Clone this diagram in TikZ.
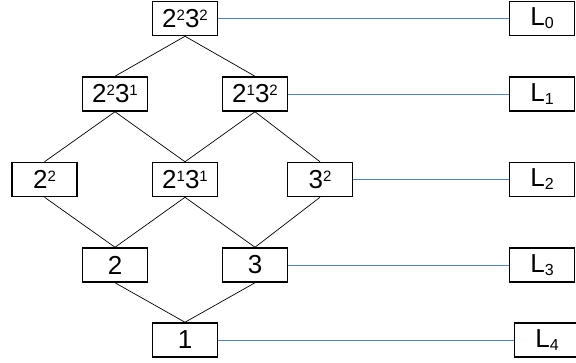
\documentclass[tikz,border=0pt]{standalone}
\usepackage{fontspec}
\setmainfont{Liberation Sans}
\definecolor{linkblue}{HTML}{4F81BD}
% exponent and level index
\newcommand\pw[1]{\raisebox{7pt}{\fontsize{15}{15}\selectfont #1}}
\newcommand\lvl[1]{L\raisebox{-3pt}{\fontsize{16}{16}\selectfont #1}}
\begin{document}
\begin{tikzpicture}[x=1pt,y=-1pt,
  divbox/.style={draw=black,line width=1.5pt,rectangle,minimum width=65pt,minimum height=34pt,
    inner sep=0pt,font=\fontsize{26}{26}\selectfont},
  lvlbox/.style={divbox},
  edge/.style={draw=black,line width=0.7pt},
  link/.style={draw=linkblue,line width=0.9pt}]
\useasboundingbox (0,0) rectangle (576,362);
% divisor lattice of 36
\node[divbox] (n36) at (185,18.5) {2\pw{2}3\pw{2}};
\node[divbox] (n12) at (115,94) {2\pw{2}3\pw{1}};
\node[divbox] (n18) at (255,94) {2\pw{1}3\pw{2}};
\node[divbox] (n4)  at (44.5,179.5) {2\pw{2}};
\node[divbox] (n6)  at (185,179.5) {2\pw{1}3\pw{1}};
\node[divbox] (n9)  at (320,179.5) {3\pw{2}};
\node[divbox] (n2)  at (115,265) {2};
\node[divbox] (n3)  at (255,265) {3};
\node[divbox] (n1)  at (185,340) {1};
% level labels
\node[lvlbox] (L0) at (542,18.5) {\lvl{0}};
\node[lvlbox] (L1) at (542,94) {\lvl{1}};
\node[lvlbox] (L2) at (542,179.5) {\lvl{2}};
\node[lvlbox] (L3) at (542,265) {\lvl{3}};
\node[lvlbox] (L4) at (547,340) {\lvl{4}};
% cover relations
\draw[edge] (n36.south) -- (n12.north);
\draw[edge] (n36.south) -- (n18.north);
\draw[edge] (n12.south) -- (n4.north);
\draw[edge] (n12.south) -- (n6.north);
\draw[edge] (n18.south) -- (n6.north);
\draw[edge] (n18.south) -- (n9.north);
\draw[edge] (n4.south) -- (n2.north);
\draw[edge] (n6.south) -- (n2.north);
\draw[edge] (n6.south) -- (n3.north);
\draw[edge] (n9.south) -- (n3.north);
\draw[edge] (n2.south) -- (n1.north);
\draw[edge] (n3.south) -- (n1.north);
% rows to levels
\draw[link] (n36.east) -- (L0.west);
\draw[link] (n18.east) -- (L1.west);
\draw[link] (n9.east) -- (L2.west);
\draw[link] (n3.east) -- (L3.west);
\draw[link] (n1.east) -- (L4.west);
\end{tikzpicture}
\end{document}
